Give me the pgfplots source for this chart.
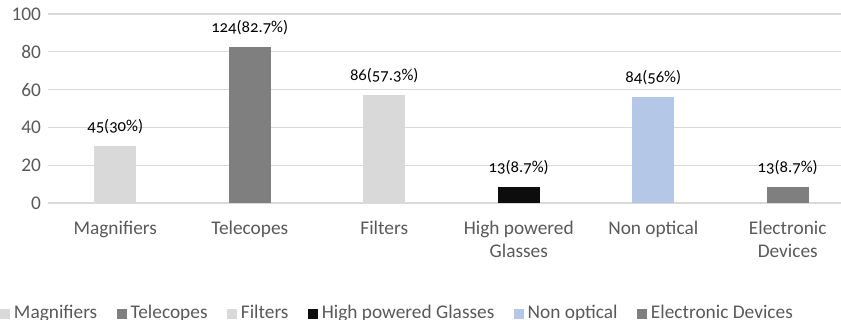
\documentclass[border=0pt]{standalone}
\usepackage{fontspec}
\setmainfont{Carlito}
\newfontfamily\lblfont{Carlito}[Numbers=OldStyle]
\usepackage{pgfplots}
\pgfplotsset{compat=1.18}
\definecolor{txt}{HTML}{595959}
\definecolor{gridc}{HTML}{D9D9D9}
\definecolor{cA}{HTML}{D9D9D9}
\definecolor{cB}{HTML}{7F7F7F}
\definecolor{cD}{HTML}{0D0D0D}
\definecolor{cE}{HTML}{B4C7E7}
\begin{document}
\begin{tikzpicture}[x=1pt,y=1pt]
\begin{axis}[
 at={(36pt,87pt)}, anchor=south west,
 scale only axis, width=605.25pt, height=141.75pt,
 xmin=-0.5, xmax=5.5, ymin=0, ymax=100,
 ytick={0,20,...,100},
 xtick={0,...,5},
 xticklabels={Magnifiers,Telecopes,Filters,{High powered\\Glasses},Non optical,{Electronic\\Devices}},
 xticklabel style={align=center, font=\fontsize{14.5}{17}\selectfont, text=txt, yshift=-10pt},
 yticklabel style={font=\fontsize{14.5}{17.5}\selectfont, text=txt, xshift=-1.7pt},
 /pgf/number format/assume math mode=true,
 major tick length=0,
 axis line style={draw=none},
 ymajorgrids, grid style={gridc, line width=0.9pt},
 ybar, bar width=31.5pt, bar shift=0pt,
 nodes near coords, point meta=explicit symbolic,
 every node near coord/.append style={font=\lblfont\fontsize{12.5}{14}\selectfont, text=black, yshift=5.5pt},
 legend columns=6,
 legend style={draw=none, fill=none, inner sep=0pt, outer sep=0pt,
   at={(-0.0595,-0.524)}, anchor=north west,
   font=\fontsize{14.5}{17.5}\selectfont, text=txt,
   /tikz/every odd column/.append style={column sep=1pt},
   /tikz/every even column/.append style={column sep=12.5pt}},
 legend image code/.code={\fill[#1] (0pt,-5pt) rectangle (7.5pt,2.5pt);},
 ]
\addplot[fill=cA, draw=none] coordinates {(0,30) [45(30\%)]};
\addplot[fill=cB, draw=none] coordinates {(1,82.7) [124(82.7\%)]};
\addplot[fill=cA, draw=none] coordinates {(2,57.3) [86(57.3\%)]};
\addplot[fill=cD, draw=none] coordinates {(3,8.7) [13(8.7\%)]};
\addplot[fill=cE, draw=none] coordinates {(4,56) [84(56\%)]};
\addplot[fill=cB, draw=none] coordinates {(5,8.7) [13(8.7\%)]};
\legend{Magnifiers,Telecopes,Filters,High powered Glasses,Non optical,Electronic Devices}
\end{axis}
\pgfresetboundingbox
\path[use as bounding box] (0,0) rectangle (630.75pt,239.25pt);
\end{tikzpicture}
\end{document}
